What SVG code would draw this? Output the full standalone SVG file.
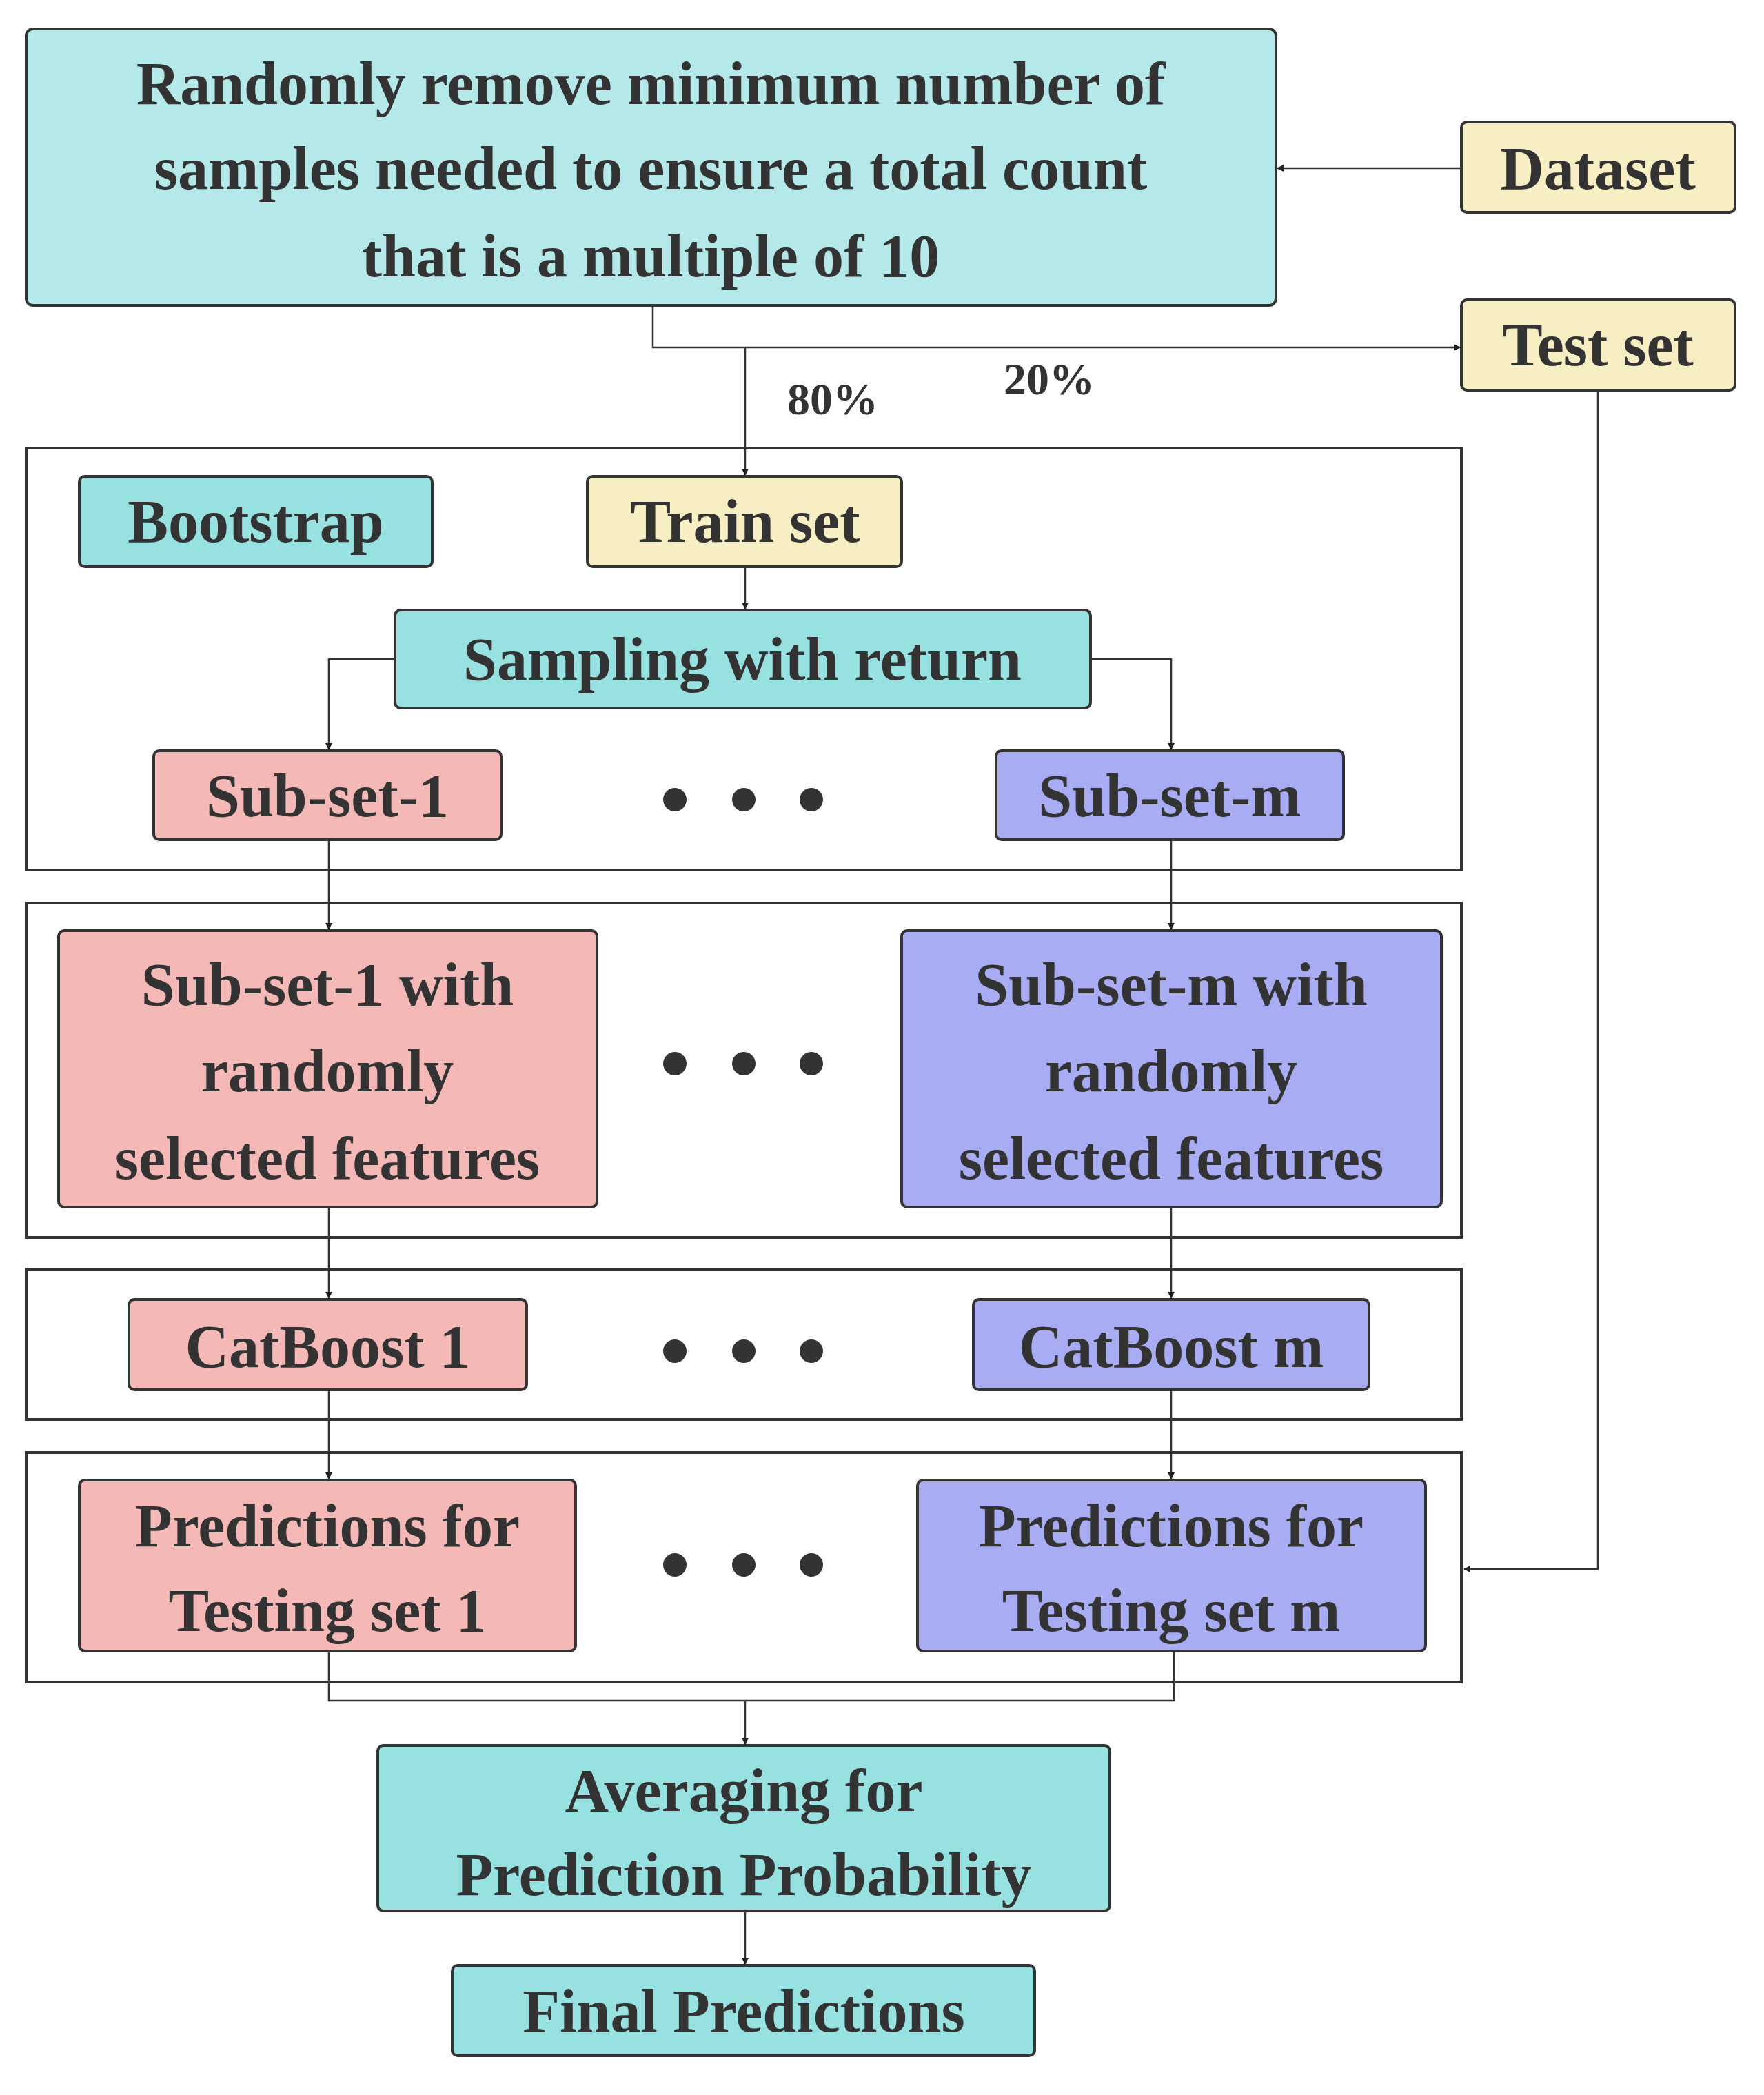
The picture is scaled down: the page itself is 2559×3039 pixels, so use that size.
<svg xmlns="http://www.w3.org/2000/svg" width="2559" height="3039" viewBox="0 0 2559 3039">
<defs>
<marker id="ar" markerWidth="10" markerHeight="10" refX="9" refY="5" orient="auto" markerUnits="userSpaceOnUse"><path d="M0,0 L10,5 L0,10 z" fill="#222"/></marker>
<style>
text{font-family:"Liberation Serif","Times New Roman",serif;font-weight:bold;fill:#333;text-anchor:middle;dominant-baseline:central}
.n{stroke:#333;stroke-width:4}
.fr{fill:none;stroke:#333;stroke-width:4}
.c{fill:none;stroke:#333;stroke-width:2.5}
.cy{fill:#b5e8e8}.tl{fill:#98e1e1}.ye{fill:#f7eec3}.pk{fill:#f4b9b7}.bl{fill:#a8acf2}
.d{fill:#333}
</style>
</defs>
<rect width="2559" height="3039" fill="#fff"/>
<g id="frames">
<rect class="fr" x="38" y="650" width="2082" height="612"/>
<rect class="fr" x="38" y="1310" width="2082" height="485"/>
<rect class="fr" x="38" y="1841" width="2082" height="218"/>
<rect class="fr" x="38" y="2107" width="2082" height="333"/>
</g>
<g id="connectors">
<path class="c" d="M2120,244 H1853" marker-end="url(#ar)"/>
<path class="c" d="M947,443 V504 H2118" marker-end="url(#ar)"/>
<path class="c" d="M1081,504 V689" marker-end="url(#ar)"/>
<path class="c" d="M1081,822 V883" marker-end="url(#ar)"/>
<path class="c" d="M573,956 H477 V1087" marker-end="url(#ar)"/>
<path class="c" d="M1582,956 H1699 V1087" marker-end="url(#ar)"/>
<path class="c" d="M477,1218 V1348" marker-end="url(#ar)"/>
<path class="c" d="M1699,1218 V1348" marker-end="url(#ar)"/>
<path class="c" d="M477,1751 V1883" marker-end="url(#ar)"/>
<path class="c" d="M1699,1751 V1883" marker-end="url(#ar)"/>
<path class="c" d="M477,2016 V2145" marker-end="url(#ar)"/>
<path class="c" d="M1699,2016 V2145" marker-end="url(#ar)"/>
<path class="c" d="M2318,566 V2276 H2124" marker-end="url(#ar)"/>
<path class="c" d="M477,2395 V2467 H1703 V2395"/>
<path class="c" d="M1081,2467 V2530" marker-end="url(#ar)"/>
<path class="c" d="M1081,2772 V2849" marker-end="url(#ar)"/>
<text x="1208" y="578" font-size="66">80%</text>
<text x="1522" y="549" font-size="66">20%</text>
</g>
<g id="remove"><rect class="n cy" x="38" y="42" width="1813" height="401" rx="10"/>
<text x="944" y="121" font-size="88">Randomly remove minimum number of</text>
<text x="944" y="244" font-size="88">samples needed to ensure a total count</text>
<text x="944" y="371" font-size="88">that is a multiple of 10</text></g>
<g id="dataset"><rect class="n ye" x="2120" y="177" width="397" height="131" rx="8"/><text x="2318" y="244" font-size="88">Dataset</text></g>
<g id="testset"><rect class="n ye" x="2120" y="435" width="397" height="131" rx="8"/><text x="2318" y="500" font-size="88">Test set</text></g>
<g id="bootstrap"><rect class="n tl" x="115" y="691" width="512" height="131" rx="8"/><text x="371" y="756" font-size="88">Bootstrap</text></g>
<g id="trainset"><rect class="n ye" x="852" y="691" width="456" height="131" rx="8"/><text x="1081" y="756" font-size="88">Train set</text></g>
<g id="sampling"><rect class="n tl" x="573" y="885" width="1009" height="142" rx="8"/><text x="1077" y="956" font-size="88">Sampling with return</text></g>
<g id="subset1"><rect class="n pk" x="223" y="1089" width="504" height="129" rx="8"/><text x="475" y="1154" font-size="88">Sub-set-1</text></g>
<g id="subsetm"><rect class="n bl" x="1445" y="1089" width="504" height="129" rx="8"/><text x="1697" y="1154" font-size="88">Sub-set-m</text></g>
<g id="feat1"><rect class="n pk" x="85" y="1350" width="781" height="401" rx="8"/>
<text x="475" y="1428" font-size="88">Sub-set-1 with</text><text x="475" y="1553" font-size="88">randomly</text><text x="475" y="1680" font-size="88">selected features</text></g>
<g id="featm"><rect class="n bl" x="1308" y="1350" width="783" height="401" rx="8"/>
<text x="1699" y="1428" font-size="88">Sub-set-m with</text><text x="1699" y="1553" font-size="88">randomly</text><text x="1699" y="1680" font-size="88">selected features</text></g>
<g id="cat1"><rect class="n pk" x="187" y="1885" width="577" height="131" rx="8"/><text x="475" y="1953" font-size="88">CatBoost 1</text></g>
<g id="catm"><rect class="n bl" x="1412" y="1885" width="574" height="131" rx="8"/><text x="1699" y="1953" font-size="88">CatBoost m</text></g>
<g id="pred1"><rect class="n pk" x="115" y="2147" width="720" height="248" rx="8"/>
<text x="475" y="2213" font-size="88">Predictions for</text><text x="475" y="2336" font-size="88">Testing set 1</text></g>
<g id="predm"><rect class="n bl" x="1331" y="2147" width="737" height="248" rx="8"/>
<text x="1699" y="2213" font-size="88">Predictions for</text><text x="1699" y="2336" font-size="88">Testing set m</text></g>
<g id="avg"><rect class="n tl" x="548" y="2532" width="1062" height="240" rx="8"/>
<text x="1079" y="2597" font-size="88">Averaging for</text><text x="1079" y="2719" font-size="88">Prediction Probability</text></g>
<g id="final"><rect class="n tl" x="656" y="2851" width="845" height="131" rx="8"/><text x="1079" y="2917" font-size="88">Final Predictions</text></g>
<g id="dots">
<circle class="d" cx="979" cy="1160" r="17"/><circle class="d" cx="1079" cy="1160" r="17"/><circle class="d" cx="1177" cy="1160" r="17"/>
<circle class="d" cx="979" cy="1543" r="17"/><circle class="d" cx="1079" cy="1543" r="17"/><circle class="d" cx="1177" cy="1543" r="17"/>
<circle class="d" cx="979" cy="1960" r="17"/><circle class="d" cx="1079" cy="1960" r="17"/><circle class="d" cx="1177" cy="1960" r="17"/>
<circle class="d" cx="979" cy="2270" r="17"/><circle class="d" cx="1079" cy="2270" r="17"/><circle class="d" cx="1177" cy="2270" r="17"/>
</g>
</svg>
